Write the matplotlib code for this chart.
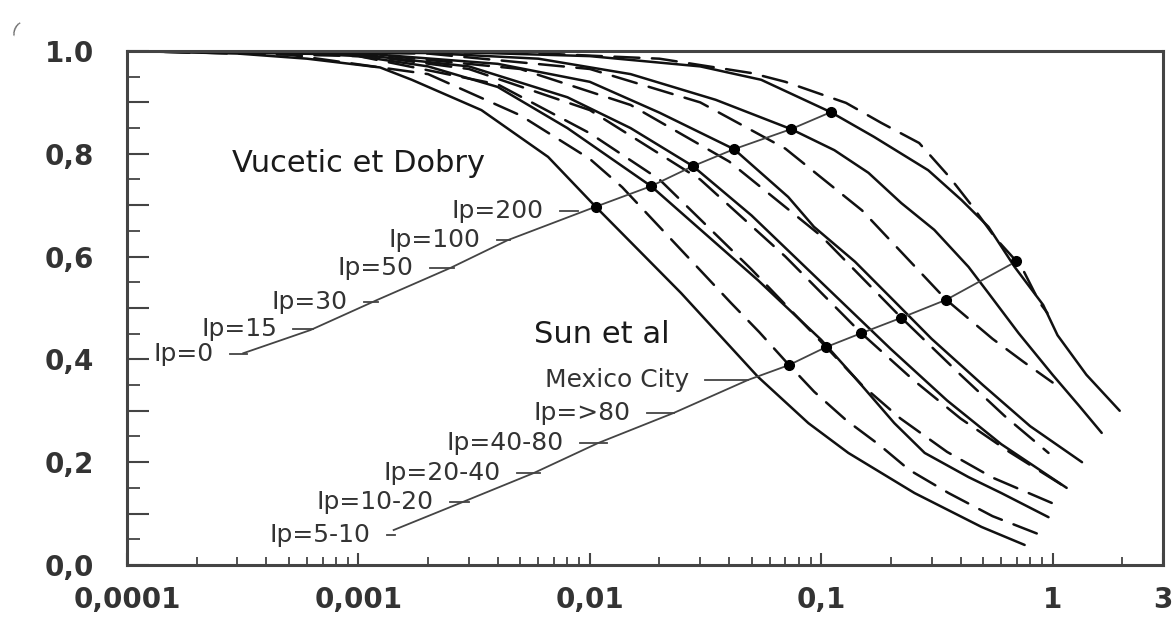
import numpy as np
import matplotlib.pyplot as plt

# G/Gmax against shear strain (%)

# Vucetic et Dobry curves (solid)
vd0_x = [0.0001, 0.0003, 0.0006, 0.00124, 0.0017, 0.0034, 0.0066, 0.0106, 0.0248, 0.0533, 0.088, 0.131, 0.253, 0.493, 0.757]
vd0_y = [1.0, 0.995, 0.985, 0.968, 0.944, 0.885, 0.794, 0.697, 0.529, 0.366, 0.276, 0.218, 0.140, 0.074, 0.039]
vd15_x = [0.0001, 0.0005, 0.001, 0.002, 0.004, 0.008, 0.0184, 0.0533, 0.1, 0.139, 0.207, 0.28, 0.433, 0.6, 0.96]
vd15_y = [1.0, 0.997, 0.99, 0.97, 0.93, 0.85, 0.737, 0.554, 0.438, 0.366, 0.276, 0.218, 0.171, 0.14, 0.093]
vd30_x = [0.0001, 0.001, 0.003, 0.008, 0.015, 0.0279, 0.05, 0.1, 0.2, 0.35, 0.6, 1.15]
vd30_y = [1.0, 0.993, 0.97, 0.91, 0.85, 0.776, 0.68, 0.55, 0.42, 0.32, 0.235, 0.15]
vd50_x = [0.0001, 0.001, 0.004, 0.01, 0.02, 0.042, 0.072, 0.093, 0.14, 0.2, 0.3, 0.5, 0.8, 1.34]
vd50_y = [1.0, 0.996, 0.975, 0.94, 0.88, 0.809, 0.716, 0.658, 0.59, 0.52, 0.44, 0.35, 0.27, 0.2]
vd100_x = [0.0001, 0.002, 0.006, 0.015, 0.035, 0.0741, 0.114, 0.16, 0.222, 0.308, 0.433, 0.528, 0.713, 1.0, 1.3, 1.63]
vd100_y = [1.0, 0.996, 0.985, 0.955, 0.905, 0.848, 0.807, 0.763, 0.704, 0.652, 0.58, 0.529, 0.451, 0.37, 0.31, 0.257]
vd200_x = [0.0001, 0.003, 0.01, 0.03, 0.055, 0.11, 0.169, 0.29, 0.404, 0.528, 0.685, 0.91, 1.05, 1.4, 1.95]
vd200_y = [1.0, 0.997, 0.99, 0.97, 0.944, 0.881, 0.833, 0.768, 0.71, 0.658, 0.58, 0.506, 0.447, 0.37, 0.30]

# Sun et al + Mexico City curves (dashed)
sun5_x = [0.0001, 0.0005, 0.002, 0.005, 0.01, 0.0138, 0.0407, 0.054, 0.0726, 0.0933, 0.128, 0.179, 0.24, 0.355, 0.55, 0.94]
sun5_y = [1.0, 0.993, 0.955, 0.875, 0.79, 0.735, 0.51, 0.453, 0.389, 0.337, 0.282, 0.233, 0.185, 0.14, 0.095, 0.054]
sun10_x = [0.0001, 0.001, 0.004, 0.01, 0.02, 0.05, 0.105, 0.15, 0.22, 0.35, 0.55, 1.0]
sun10_y = [1.0, 0.99, 0.935, 0.84, 0.75, 0.575, 0.424, 0.35, 0.285, 0.22, 0.17, 0.12]
sun20_x = [0.0001, 0.001, 0.003, 0.01, 0.03, 0.07, 0.149, 0.25, 0.4, 0.65, 1.15]
sun20_y = [1.0, 0.993, 0.965, 0.885, 0.75, 0.6, 0.451, 0.36, 0.285, 0.22, 0.15]
sun40_x = [0.0001, 0.001, 0.005, 0.015, 0.04, 0.1, 0.222, 0.4, 0.62, 0.96]
sun40_y = [1.0, 0.996, 0.965, 0.895, 0.785, 0.64, 0.481, 0.37, 0.29, 0.218]
sun80_x = [0.0001, 0.002, 0.01, 0.03, 0.07, 0.15, 0.347, 0.55, 0.75, 1.0]
sun80_y = [1.0, 0.995, 0.965, 0.9, 0.81, 0.69, 0.516, 0.44, 0.395, 0.355]
mex_x = [0.0001, 0.005, 0.02, 0.05, 0.07, 0.128, 0.182, 0.265, 0.358, 0.446, 0.566, 0.734, 0.88, 0.95]
mex_y = [1.0, 0.997, 0.985, 0.957, 0.94, 0.899, 0.86, 0.821, 0.755, 0.70, 0.636, 0.58, 0.51, 0.49]

solid = [(vd0_x, vd0_y), (vd15_x, vd15_y), (vd30_x, vd30_y), (vd50_x, vd50_y), (vd100_x, vd100_y), (vd200_x, vd200_y)]
dashed = [(sun5_x, sun5_y), (sun10_x, sun10_y), (sun20_x, sun20_y), (sun40_x, sun40_y), (sun80_x, sun80_y), (mex_x, mex_y)]

# where the label lines meet each curve (strain)
vd_dot_x = [0.0106, 0.0184, 0.0279, 0.042, 0.0741, 0.110]
sun_dot_x = [0.0726, 0.105, 0.149, 0.222, 0.347, 0.698]

# lead-in part of the label lines
vd_lead_x = [0.000318, 0.00062, 0.00121, 0.0025, 0.00442]
vd_lead_y = [0.412, 0.457, 0.516, 0.578, 0.632]
sun_lead_x = [0.00142, 0.00277, 0.00573, 0.01083, 0.0231, 0.0483]
sun_lead_y = [0.068, 0.121, 0.179, 0.237, 0.296, 0.360]

# labels: text, right edge x, y, end of the small leader
vd_labels = ["Ip=0", "Ip=15", "Ip=30", "Ip=50", "Ip=100", "Ip=200"]
vd_lab_x = [0.000236, 0.000446, 0.000896, 0.00173, 0.00337, 0.00632]
vd_lab_y = [0.41, 0.459, 0.512, 0.578, 0.632, 0.689]
vd_lead_end = [0.000331, 0.000638, 0.00121, 0.00258, 0.00454, 0.0089]
sun_labels = ["Ip=5-10", "Ip=10-20", "Ip=20-40", "Ip=40-80", "Ip=>80", "Mexico City"]
sun_lab_x = [0.00113, 0.00211, 0.00412, 0.0077, 0.01504, 0.0268]
sun_lab_y = [0.058, 0.123, 0.179, 0.237, 0.296, 0.360]
sun_lead_end = [0.00144, 0.0030, 0.0061, 0.0119, 0.0231, 0.0483]

fig = plt.figure(figsize=(11.75, 6.21), dpi=100)
ax = fig.add_axes([0.1081, 0.0902, 0.8817, 0.8277])

for xs, ys in solid:
    ax.plot(xs, ys, color='#111111', lw=1.8, solid_joinstyle='round', solid_capstyle='round')
for xs, ys in dashed:
    ax.plot(xs, ys, color='#111111', lw=1.8, dashes=(10, 5), dash_capstyle='round')

# dots on the curves, y taken from the curve itself
vd_dot_y = [np.interp(np.log10(x), np.log10(c[0]), c[1]) for x, c in zip(vd_dot_x, solid)]
sun_dot_y = [np.interp(np.log10(x), np.log10(c[0]), c[1]) for x, c in zip(sun_dot_x, dashed)]

ax.plot(vd_lead_x + vd_dot_x, vd_lead_y + vd_dot_y, color='#444444', lw=1.3)
ax.plot(sun_lead_x + sun_dot_x, sun_lead_y + sun_dot_y, color='#444444', lw=1.3)
ax.plot(vd_dot_x, vd_dot_y, 'o', color='black', ms=7)
ax.plot(sun_dot_x, sun_dot_y, 'o', color='black', ms=7)

# labels + short leaders
for t, x, y, xe in zip(vd_labels + sun_labels, vd_lab_x + sun_lab_x, vd_lab_y + sun_lab_y, vd_lead_end + sun_lead_end):
    ax.text(x, y, t, ha='right', va='center', fontsize=18, color='#333333')
    ax.plot([x * 10**0.07, xe], [y, y], color='#444444', lw=1.3)

ax.text(0.000285, 0.782, "Vucetic et Dobry", ha='left', va='center', fontsize=22, color='#1a1a1a')
ax.text(0.00573, 0.449, "Sun et al", ha='left', va='center', fontsize=22, color='#1a1a1a')

# scan artifact in the corner
fig.text(0.008, 0.945, "(", fontsize=11, color='#666666', rotation=-25)

ax.set_xscale('log')
ax.set_xlim(0.0001, 3)
ax.set_ylim(0, 1)

ax.set_xticks([0.0001, 0.001, 0.01, 0.1, 1, 3])
ax.set_xticklabels(["0,0001", "0,001", "0,01", "0,1", "1", "3"])
minor_x = [k * 10.0**e for e in range(-4, 0) for k in range(2, 10)] + [2]
ax.set_xticks(minor_x, minor=True)
ax.set_xticklabels([], minor=True)

ax.set_yticks(np.round(np.arange(0, 1.01, 0.1), 2))
ax.set_yticklabels(["0,0", "", "0,2", "", "0,4", "", "0,6", "", "0,8", "", "1.0"])
ax.set_yticks(np.round(np.arange(0.05, 1.0, 0.1), 2), minor=True)

ax.tick_params(axis='x', which='major', direction='in', length=9, width=1.5, color='#444444',
               pad=15, labelsize=20, labelcolor='#333333')
ax.tick_params(axis='x', which='minor', direction='in', length=6, width=1.3, color='#444444')
ax.tick_params(axis='y', which='major', direction='in', length=16, width=1.5, color='#444444',
               pad=24, labelsize=20, labelcolor='#333333')
ax.tick_params(axis='y', which='minor', direction='in', length=9, width=1.3, color='#444444')
for lab in ax.get_xticklabels() + ax.get_yticklabels():
    lab.set_fontweight('bold')

for s in ax.spines.values():
    s.set_linewidth(2.2)
    s.set_color('#444444')

fig.savefig('out.png', dpi=100)
